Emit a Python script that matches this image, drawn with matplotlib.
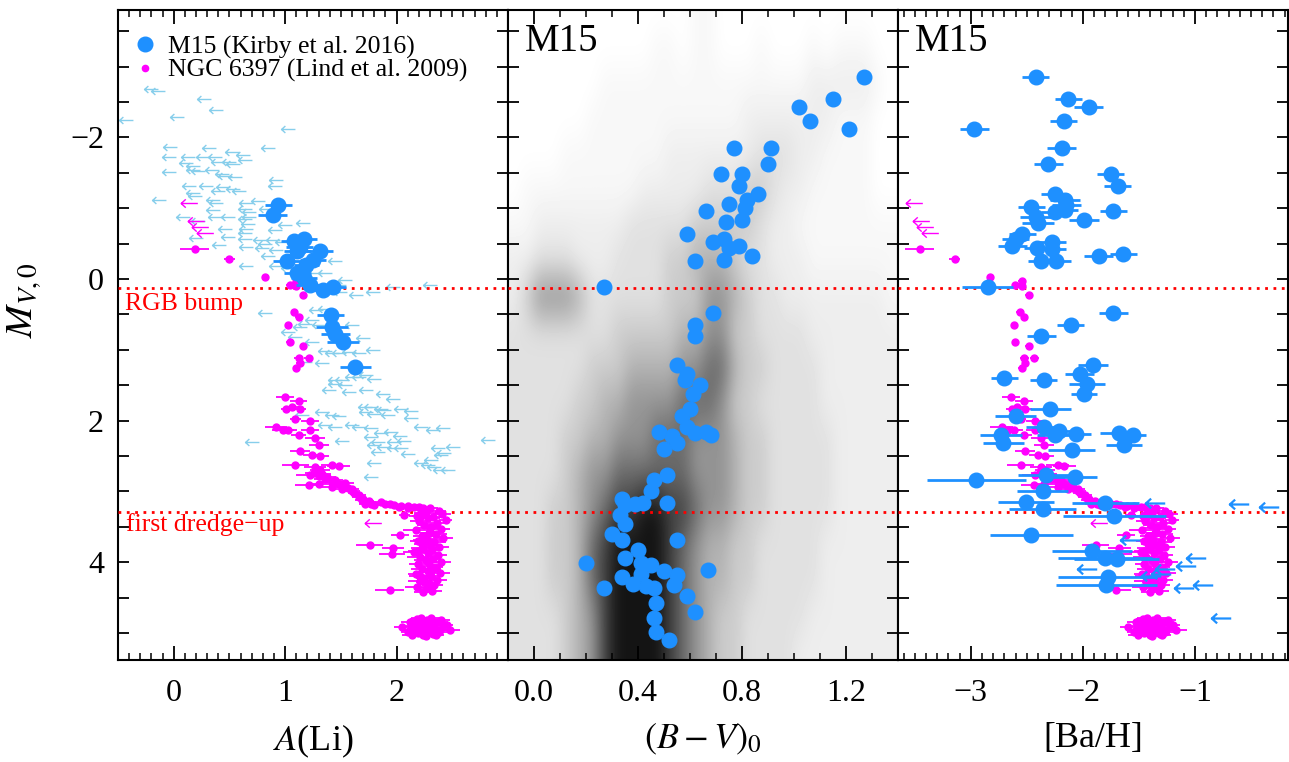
import numpy as np
import matplotlib
matplotlib.use("Agg")
import matplotlib.pyplot as plt
from matplotlib.path import Path
from matplotlib.lines import Line2D
from matplotlib.ticker import MultipleLocator, FuncFormatter, FixedLocator

plt.rcParams['font.family'] = ['Liberation Serif', 'DejaVu Serif']
plt.rcParams['mathtext.fontset'] = 'stix'

# ---------------- data ----------------
# M15 (Kirby et al. 2016): Li detections
m15_li = [0.94, 0.89, 1.08, 1.17, 1.31, 1.02, 1.11, 1.25, 1.19, 1.11, 1.17, 1.22, 1.34, 1.43,
          1.41, 1.42, 1.45, 1.52, 1.63, 1.13]
m15_li_mv = [-1.05, -0.91, -0.54, -0.56, -0.40, -0.25, -0.39, -0.27, -0.20, -0.08, -0.01, 0.09,
             0.15, 0.11, 0.51, 0.68, 0.77, 0.89, 1.24, -0.45]
m15_li_err = [0.12, 0.13, 0.12, 0.12, 0.12, 0.13, 0.12, 0.12, 0.11, 0.12, 0.12, 0.12, 0.12, 0.12,
              0.12, 0.14, 0.13, 0.14, 0.14, 0.12]

# M15: Li upper limits
m15_li_lim = [-0.20, -0.14, 0.27, 0.38, 0.03, -0.43, 1.03, -0.03, 0.32, 0.85, -0.04, 0.13, 0.26, 0.37,
              0.52, 0.62, 0.11, 0.17, 0.40, 0.50, 0.53, 0.64, -0.04, 0.17, 0.22, 0.34, 0.43, 0.46,
              0.55, 0.92, 0.91, 0.14, 0.29, 0.44, 0.53, 0.59, 0.40, 0.17, 0.19, -0.13, 0.35, 0.38,
              0.65, 0.76, 0.35, 0.64, 0.68, 0.83, 0.08, 0.37, 0.49, 0.64, 0.68, 0.22, 0.67, 0.65,
              0.64, 0.91, 0.46, 1.16, 1.00, 0.20, 0.49, 0.64, 0.77, 0.89, 0.97, 0.41, 0.65, 0.82,
              0.79, 0.92, 0.85, 1.09, 1.45, 0.65, 0.92, 1.03, 1.27, 1.36, 1.54, 1.48, 1.64, 1.79,
              1.97, 2.30, 1.49, 0.82, 1.28, 1.36, 1.24, 1.18, 1.30, 1.13, 1.60,
              1.03, 1.09, 1.24, 1.70, 1.79, 1.36, 1.42, 1.48, 1.57, 1.66, 1.18, 1.33, 1.45, 1.51,
              1.60, 1.66, 1.73, 1.80, 1.45, 1.54, 1.39, 1.57, 1.73, 1.88, 1.97, 1.72, 1.77, 1.86,
              1.89, 2.04, 2.13, 1.33, 1.42, 1.48, 1.73, 1.80, 1.92, 2.13, 1.15, 1.36, 1.45, 1.60,
              1.66, 1.77, 1.86, 1.95, 2.03, 2.22, 2.33, 2.42, 0.70, 1.51, 1.77, 1.83, 1.98, 2.07,
              1.80, 1.89, 1.98, 2.04, 2.82, 2.37, 2.51, 2.43, 2.40, 1.83, 2.10, 1.80, 2.31, 2.22,
              2.28, 2.34, 2.39, 2.46, 1.77]
m15_li_lim_mv = [-2.69, -2.66, -2.54, -2.39, -2.29, -2.24, -2.12, -1.87, -1.85, -1.85, -1.73, -1.72,
                 -1.73, -1.72, -1.80, -1.75, -1.64, -1.60, -1.65, -1.65, -1.63, -1.68, -1.51, -1.54,
                 -1.52, -1.54, -1.48, -1.46, -1.44, -1.40, -1.32, -1.31, -1.32, -1.30, -1.27, -1.25,
                 -1.25, -1.21, -1.18, -1.12, -1.11, -1.07, -1.07, -1.10, -0.98, -0.99, -0.95, -0.99,
                 -0.87, -0.87, -0.87, -0.85, -0.87, -0.82, -0.78, -0.71, -0.65, -0.69, -0.71, -0.79,
                 -0.76, -0.58, -0.59, -0.57, -0.55, -0.55, -0.52, -0.48, -0.45, -0.50, -0.44, -0.41,
                 -0.33, -0.33, -0.26, -0.19, -0.19, -0.15, -0.08, -0.08, 0.02, 0.09, 0.23, 0.18,
                 0.11, 0.09, 0.18, 0.48, 0.44, 0.42, 0.58, 0.63, 0.65, 0.68, 0.65,
                 0.75, 0.82, 0.89, 0.83, 1.00, 1.01, 1.05, 1.05, 1.03, 1.05, 1.17, 1.19, 1.43, 1.42,
                 1.38, 1.38, 1.36, 1.41, 1.48, 1.50, 1.56, 1.59, 1.57, 1.62, 1.70, 1.80, 1.81, 1.83,
                 1.85, 1.83, 1.86, 1.88, 1.92, 1.94, 1.88, 1.90, 1.92, 1.96, 1.92, 2.06, 2.09, 2.06,
                 2.09, 2.11, 2.18, 2.16, 2.21, 2.09, 2.13, 2.11, 2.30, 2.28, 2.23, 2.30, 2.30, 2.28,
                 2.35, 2.37, 2.39, 2.38, 2.27, 2.39, 2.37, 2.46, 2.49, 2.44, 2.47, 2.60, 2.56, 2.60,
                 2.63, 2.65, 2.70, 2.70, 2.79]

# NGC 6397 (Lind et al. 2009): Li detections
n6397_li = [0.19, 0.50, 0.82, 1.04, 1.10, 1.10, 1.16, 1.08, 1.12, 1.03, 1.04, 1.16, 1.12, 1.21,
            1.10, 1.13, 1.00, 1.12, 1.06, 1.01, 1.13, 1.09, 1.22, 0.92, 0.98, 1.03, 1.12, 1.22,
            1.27, 1.30, 1.13, 1.24, 1.31, 1.09, 1.27, 1.31, 1.42, 1.48, 1.22, 1.30, 1.36, 1.42,
            1.21, 1.30, 1.42, 1.54, 1.51, 1.60, 1.66, 1.69, 1.72, 1.77, 1.86, 1.94, 2.04, 2.10,
            2.16, 2.07, 1.26, 1.33, 1.38, 1.45, 1.48, 1.52, 1.56, 1.60, 1.62, 1.66, 1.70, 1.75,
            1.80, 1.90, 1.98, 2.02, 2.10, 2.20, 2.24, 2.03, 1.76, 1.97, 1.96, 1.94,
            2.30, 2.22, 2.38, 2.26, 2.41, 2.18, 2.33, 2.28, 2.44, 2.20, 2.36, 2.25, 2.31, 2.40,
            2.17, 2.29, 2.35, 2.23, 2.42, 2.27, 2.19, 2.34, 2.30, 2.38, 2.24, 2.32, 2.16, 2.28,
            2.37, 2.21, 2.33, 2.26, 2.40, 2.19, 2.30, 2.35, 2.23, 2.28, 2.39, 2.17, 2.31, 2.25,
            2.36, 2.21, 2.29, 2.34, 2.18, 2.27, 2.32, 2.24, 2.22, 2.30, 2.26, 2.19, 2.28, 2.33,
            2.21, 2.25, 2.30, 2.23,
            2.05, 2.12, 2.18, 2.22, 2.27, 2.31, 2.36, 2.42, 2.48, 2.10, 2.15, 2.20, 2.25, 2.29,
            2.34, 2.39, 2.45, 2.14, 2.19, 2.24, 2.28, 2.33, 2.38, 2.23, 2.17, 2.30, 2.26, 2.21,
            2.35, 2.12, 2.40, 2.27, 2.32, 2.20, 2.25]
n6397_mv = [-0.43, -0.28, -0.03, 0.08, 0.03, 0.10, 0.23, 0.47, 0.54, 0.65, 0.89, 0.95, 1.12, 1.12,
            1.25, 1.19, 1.67, 1.72, 1.81, 1.83, 1.83, 1.97, 2.00, 2.09, 2.13, 2.13, 2.20, 2.13,
            2.25, 2.35, 2.43, 2.49, 2.50, 2.63, 2.65, 2.70, 2.63, 2.64, 2.77, 2.78, 2.82, 2.86,
            2.91, 2.90, 2.93, 2.88, 2.97, 2.99, 3.05, 3.12, 3.17, 3.18, 3.15, 3.17, 3.21, 3.24,
            3.22, 3.33, 2.74, 2.76, 2.80, 2.84, 2.90, 2.92, 2.95, 2.97, 3.02, 3.08, 3.10, 3.14,
            3.19, 3.18, 3.19, 3.22, 3.20, 3.22, 3.24, 3.61, 3.76, 3.80, 3.88, 4.39,
            3.24, 3.26, 3.28, 3.30, 3.32, 3.34, 3.36, 3.38, 3.40, 3.42, 3.45, 3.48, 3.50, 3.53,
            3.55, 3.58, 3.60, 3.63, 3.65, 3.68, 3.70, 3.72, 3.75, 3.78, 3.80, 3.82, 3.85, 3.87,
            3.90, 3.92, 3.95, 3.97, 4.00, 4.02, 4.05, 4.07, 4.10, 4.12, 4.15, 4.17, 4.20, 4.22,
            4.25, 4.27, 4.30, 4.32, 4.35, 4.37, 4.40, 4.42, 3.35, 3.52, 3.67, 3.84, 3.99, 4.09,
            4.19, 4.28, 3.58, 3.74,
            4.92, 4.85, 4.80, 4.78, 4.82, 4.79, 4.84, 4.88, 4.95, 4.98, 4.90, 4.87, 4.93, 4.86,
            4.91, 4.96, 4.89, 5.02, 5.00, 5.03, 4.97, 5.01, 4.99, 4.95, 4.94, 4.93, 5.04, 4.83,
            5.03, 4.95, 4.81, 4.88, 4.97, 4.96, 4.90]
n6397_err = [0.13, 0.05, 0.03, 0.03, 0.03, 0.03, 0.03, 0.03, 0.03, 0.03, 0.03, 0.03, 0.04, 0.04,
             0.03, 0.03, 0.08, 0.08, 0.06, 0.05, 0.06, 0.05, 0.08, 0.10, 0.10, 0.08, 0.07, 0.08,
             0.09, 0.09, 0.09, 0.08, 0.08, 0.12, 0.10, 0.09, 0.10, 0.10, 0.12, 0.10, 0.10, 0.09,
             0.12, 0.10, 0.09, 0.08, 0.08, 0.07, 0.07, 0.06, 0.06, 0.06, 0.07, 0.06, 0.06, 0.06,
             0.06, 0.05, 0.08, 0.08, 0.08, 0.07, 0.07, 0.07, 0.07, 0.06, 0.06, 0.06, 0.06, 0.05,
             0.05, 0.05, 0.05, 0.05, 0.05, 0.05, 0.05, 0.08, 0.12, 0.10, 0.12, 0.13,
             0.07, 0.09, 0.06, 0.10, 0.08, 0.07, 0.09, 0.11, 0.06, 0.08, 0.10, 0.07, 0.09, 0.08,
             0.11, 0.07, 0.10, 0.08, 0.09, 0.12, 0.07, 0.10, 0.08, 0.09, 0.11, 0.07, 0.10, 0.09,
             0.08, 0.12, 0.07, 0.10, 0.09, 0.08, 0.11, 0.07, 0.10, 0.08, 0.09, 0.07, 0.10, 0.08,
             0.09, 0.11, 0.07, 0.08, 0.10, 0.07, 0.09, 0.08, 0.08, 0.10, 0.07, 0.09, 0.08, 0.07,
             0.10, 0.08, 0.09, 0.07,
             0.07, 0.08, 0.06, 0.09, 0.07, 0.08, 0.10, 0.07, 0.09, 0.06, 0.08, 0.07, 0.09, 0.08,
             0.07, 0.08, 0.06, 0.09, 0.07, 0.08, 0.07, 0.09, 0.08, 0.07, 0.06, 0.08, 0.07, 0.09,
             0.08, 0.07, 0.08, 0.07, 0.09, 0.06, 0.08]
# NGC 6397: Li upper limits
n6397_lim = [0.14, 0.20, 0.24, 0.28, 1.79]
n6397_lim_mv = [-1.07, -0.82, -0.73, -0.65, 3.45]

# M15 colour-magnitude: spectroscopic targets
m15_bv = [1.27, 1.15, 1.02, 1.06, 1.21, 0.77, 0.91, 0.90, 0.72, 0.80, 0.79, 0.86, 0.82, 0.75,
          0.81, 0.66, 0.80, 0.74, 0.59, 0.69, 0.73, 0.75, 0.79, 0.73, 0.84, 0.62, 0.27, 0.69,
          0.62, 0.62, 0.55, 0.59, 0.58, 0.64, 0.61, 0.60, 0.57, 0.59, 0.48, 0.53, 0.55, 0.62,
          0.66, 0.68, 0.50, 0.51, 0.46, 0.45, 0.51, 0.34, 0.35, 0.39, 0.42, 0.33, 0.35, 0.30,
          0.34, 0.55, 0.20, 0.40, 0.35, 0.41, 0.45, 0.50, 0.41, 0.34, 0.38, 0.43, 0.46, 0.55,
          0.54, 0.67, 0.27, 0.59, 0.47, 0.62, 0.46, 0.47, 0.52]
m15_bv_mv = [-2.86, -2.54, -2.43, -2.23, -2.12, -1.85, -1.85, -1.62, -1.48, -1.49, -1.32, -1.20,
             -1.12, -1.06, -1.00, -0.96, -0.83, -0.80, -0.63, -0.53, -0.56, -0.44, -0.46, -0.27,
             -0.32, -0.26, 0.11, 0.48, 0.65, 0.81, 1.22, 1.34, 1.42, 1.49, 1.63, 1.83, 1.94, 2.09,
             2.16, 2.22, 2.32, 2.18, 2.16, 2.20, 2.40, 2.77, 2.84, 3.00, 3.16, 3.11, 3.19, 3.17,
             3.16, 3.33, 3.46, 3.60, 3.69, 3.69, 4.01, 3.83, 3.94, 4.01, 4.04, 4.12, 4.17, 4.21,
             4.30, 4.33, 4.37, 4.18, 4.32, 4.11, 4.37, 4.48, 4.57, 4.70, 4.79, 4.98, 5.10]

# M15 photometry: star density in the CMD, one digit per cell
# columns: (B-V)0 from -0.10 to 1.40 in steps of 0.05; rows: M_V from -4.0 to 5.5 in steps of 0.5
cmd_color_range = (-0.10, 1.40)
cmd_mv_range = (-4.0, 5.5)
cmd_density_rows = [
    "000000000000001100000000000000",
    "000000000001101100010001011100",
    "000000011111111111111112222210",
    "000000111111111111222222211100",
    "000011111111222222233322111100",
    "011111111122222333443221111100",
    "112222222333334444432211111111",
    "223332223333445554332221111111",
    "246665333333444665433222222221",
    "333333334444455664433332222222",
    "333333444555566775443333222222",
    "333334455666677764433333222222",
    "333344556667776665443333322222",
    "333345667777776665443333322222",
    "333445678899887665443333322222",
    "333445789999876554433333222222",
    "333445789999876554433333222222",
    "333345689999876544333332222222",
    "333345689999876544333322222222",
]

# M15: [Ba/H]
m15_ba = [-2.42, -2.13, -1.95, -2.17, -2.97, -2.19, -2.31, -1.75, -1.69, -2.25, -2.16, -2.15,
          -2.46, -2.25, -2.16, -2.42, -2.40, -1.99, -1.73, -2.54, -2.60, -2.63, -2.41, -2.28,
          -2.28, -2.37, -2.24, -1.86, -1.64, -2.85, -1.73, -2.11,
          -2.37, -1.91, -2.03, -2.70, -2.35, -1.96, -1.99, -2.29, -2.60, -2.35, -2.21, -2.25,
          -2.06, -2.73, -2.71, -2.10, -1.68, -1.55, -1.63, -2.95, -2.33, -2.07, -2.36, -2.51,
          -2.36, -1.80, -1.72, -2.46, -1.92, -1.80, -1.70, -1.78, -1.79]
m15_ba_mv = [-2.86, -2.54, -2.43, -2.23, -2.12, -1.85, -1.62, -1.48, -1.32, -1.20, -1.12, -1.05,
             -1.02, -0.95, -0.98, -0.87, -0.79, -0.83, -0.96, -0.64, -0.56, -0.46, -0.44, -0.53,
             -0.43, -0.26, -0.26, -0.32, -0.36, 0.11, 0.48, 0.65,
             0.81, 1.22, 1.34, 1.40, 1.43, 1.48, 1.63, 1.83, 1.94, 2.09, 2.14, 2.20, 2.19, 2.20,
             2.32, 2.41, 2.17, 2.20, 2.34, 2.84, 2.77, 2.79, 3.00, 3.15, 3.25, 3.16, 3.35, 3.61,
             3.84, 3.94, 3.95, 4.21, 4.32]
m15_ba_err = [0.12, 0.12, 0.13, 0.12, 0.13, 0.13, 0.13, 0.12, 0.12, 0.12, 0.13, 0.13, 0.12, 0.12,
              0.12, 0.14, 0.14, 0.13, 0.12, 0.12, 0.12, 0.13, 0.12, 0.13, 0.13, 0.12, 0.13, 0.13,
              0.12, 0.23, 0.13, 0.12,
              0.13, 0.13, 0.13, 0.12, 0.12, 0.16, 0.12, 0.18, 0.18, 0.16, 0.12, 0.16, 0.13, 0.19,
              0.18, 0.21, 0.17, 0.11, 0.16, 0.44, 0.25, 0.20, 0.23, 0.25, 0.30, 0.30, 0.46, 0.37,
              0.36, 0.42, 0.38, 0.44, 0.45]
# M15: [Ba/H] upper limits
m15_ba_lim = [-1.36, -0.61, -0.34, -1.58, -1.96, -0.99, -1.08, -1.27, -1.39, -0.93, -1.10, -0.77,
              -1.30]
m15_ba_lim_mv = [3.16, 3.17, 3.22, 3.68, 4.10, 3.94, 4.05, 4.10, 4.20, 4.32, 4.37, 4.78, 4.16]

# NGC 6397 Li sequence drawn on the [Ba/H] axis with this shift
n6397_ba_shift = -3.645

rgb_bump_mv = 0.13
first_dredge_mv = 3.29

li_ticks = [0, 1, 2]
bv_ticks = [0.0, 0.4, 0.8, 1.2]
ba_ticks = [-3, -2, -1]

# ---------------- style ----------------
BLUE = '#1E90FF'
LIGHTBLUE = '#87CEEB'
MAGENTA = '#FF00FF'

arrow = Path([(1, 0), (-1, 0), (-0.45, 0.5), (-1, 0), (-0.45, -0.5)],
             [Path.MOVETO, Path.LINETO, Path.MOVETO, Path.LINETO, Path.LINETO])

fig = plt.figure(figsize=(12.89, 7.62), dpi=100)
W, H = 1289.0, 762.0
left0, pw, bottom, top = 118, 390, 660, 10
axes = []
for i in range(3):
    ax = fig.add_axes([(left0 + i * pw) / W, (H - bottom) / H, pw / W, (bottom - top) / H])
    axes.append(ax)
ax1, ax2, ax3 = axes

ylim = (5.38, -3.80)


def minus(s):
    return s.replace('-', '\u2212')


for ax in axes:
    ax.set_ylim(*ylim)
    for sp in ax.spines.values():
        sp.set_linewidth(1.5)
    ax.yaxis.set_major_locator(MultipleLocator(0.5))
    ax.tick_params(axis='y', which='major', direction='in', length=8, width=1.3,
                   left=True, right=True, labelsize=23, pad=10)
    ax.tick_params(axis='x', which='major', direction='in', length=10, width=1.3,
                   top=True, bottom=True, labelsize=23, pad=14)
    ax.tick_params(axis='x', which='minor', direction='in', length=5, width=1.1,
                   top=True, bottom=True)
    ax.xaxis.set_minor_locator(MultipleLocator(0.1))
    ax.axhline(rgb_bump_mv, color='red', lw=2, ls=(0, (1, 2)), zorder=3)
    ax.axhline(first_dredge_mv, color='red', lw=2, ls=(0, (1, 2)), zorder=3)

ax1.yaxis.set_major_formatter(FuncFormatter(
    lambda v, p: minus('%d' % round(v)) if abs(v - round(v)) < 1e-6 and round(v) % 2 == 0 else ''))
ax2.tick_params(axis='y', labelleft=False)
ax3.tick_params(axis='y', labelleft=False)

# ---- Panel 1: A(Li)
ax1.set_xlim(-0.5, 3.0)
ax1.xaxis.set_major_locator(FixedLocator(li_ticks))
ax1.xaxis.set_major_formatter(FuncFormatter(lambda v, p: minus('%d' % round(v))))
ax1.plot(m15_li_lim, m15_li_lim_mv, ls='none', marker=arrow, ms=10, mfc='none',
         mec=LIGHTBLUE, mew=1.0, zorder=2)
ax1.plot(n6397_lim, n6397_lim_mv, ls='none', marker=arrow, ms=12, mfc='none',
         mec=MAGENTA, mew=1.0, zorder=4)
ax1.errorbar(n6397_li, n6397_mv, xerr=n6397_err, fmt='o', ms=5, color=MAGENTA,
             elinewidth=1.3, capsize=0, zorder=4)
ax1.errorbar(m15_li, m15_li_mv, xerr=m15_li_err, fmt='o', ms=10.5, color=BLUE,
             elinewidth=2, capsize=0, zorder=5)
ax1.text(-0.44, 0.35, 'RGB bump', color='red', fontsize=18.5, ha='left', va='center')
ax1.text(-0.43, 3.47, 'first dredge\u2212up', color='red', fontsize=18.5, ha='left', va='center')
ax1.set_xlabel(r'$A$(Li)', fontsize=26, labelpad=10)

handles = [Line2D([], [], ls='none', marker='o', ms=10.5, color=BLUE),
           Line2D([], [], ls='none', marker='o', ms=4.5, color=MAGENTA)]
ax1.legend(handles, ['M15 (Kirby et al. 2016)', 'NGC 6397 (Lind et al. 2009)'],
           loc='upper left', bbox_to_anchor=(0.0, 0.985), frameon=False, fontsize=18.5,
           handlelength=0.9, handletextpad=0.45, labelspacing=0.0, borderaxespad=0.25,
           borderpad=0.35)

# ---- Panel 2: CMD
density = np.array([[int(c) for c in row] for row in cmd_density_rows])
darkness = np.array([0.0, 0.03, 0.07, 0.12, 0.20, 0.30, 0.42, 0.58, 0.75, 0.92])
ax2.imshow(1.0 - darkness[density], cmap='gray', vmin=0, vmax=1, aspect='auto',
           interpolation='bicubic', origin='upper',
           extent=(cmd_color_range[0], cmd_color_range[1], cmd_mv_range[1], cmd_mv_range[0]),
           zorder=0)
ax2.set_xlim(-0.10, 1.40)
ax2.set_ylim(*ylim)
ax2.xaxis.set_major_locator(FixedLocator(bv_ticks))
ax2.xaxis.set_major_formatter(FuncFormatter(lambda v, p: minus('%.1f' % v)))
ax2.plot(m15_bv, m15_bv_mv, ls='none', marker='o', ms=10.5, color=BLUE, zorder=5)
ax2.text(0.044, 0.951, 'M15', transform=ax2.transAxes, fontsize=28, ha='left', va='center')
ax2.set_xlabel(r'$(B-V)_0$', fontsize=26, labelpad=10)

# ---- Panel 3: [Ba/H]
ax3.set_xlim(-3.65, -0.17)
ax3.xaxis.set_major_locator(FixedLocator(ba_ticks))
ax3.xaxis.set_major_formatter(FuncFormatter(lambda v, p: minus('%d' % round(v))))
ax3.plot(np.array(n6397_lim) + n6397_ba_shift, n6397_lim_mv, ls='none', marker=arrow, ms=12,
         mfc='none', mec=MAGENTA, mew=1.0, zorder=4)
ax3.errorbar(np.array(n6397_li) + n6397_ba_shift, n6397_mv, xerr=n6397_err, fmt='o', ms=5,
             color=MAGENTA, elinewidth=1.3, capsize=0, zorder=4)
ax3.errorbar(m15_ba, m15_ba_mv, xerr=m15_ba_err, fmt='o', ms=10.5, color=BLUE,
             elinewidth=2, capsize=0, zorder=5)
ax3.plot(m15_ba_lim, m15_ba_lim_mv, ls='none', marker=arrow, ms=14, mfc='none',
         mec=BLUE, mew=1.6, zorder=5)
ax3.text(0.044, 0.951, 'M15', transform=ax3.transAxes, fontsize=28, ha='left', va='center')
ax3.set_xlabel('[Ba/H]', fontsize=26, labelpad=10)

fig.text(24 / W, 1 - 300 / H, r'$M_{V,0}$', rotation=90, fontsize=28, ha='center', va='center')

fig.savefig('out.png', dpi=100)
